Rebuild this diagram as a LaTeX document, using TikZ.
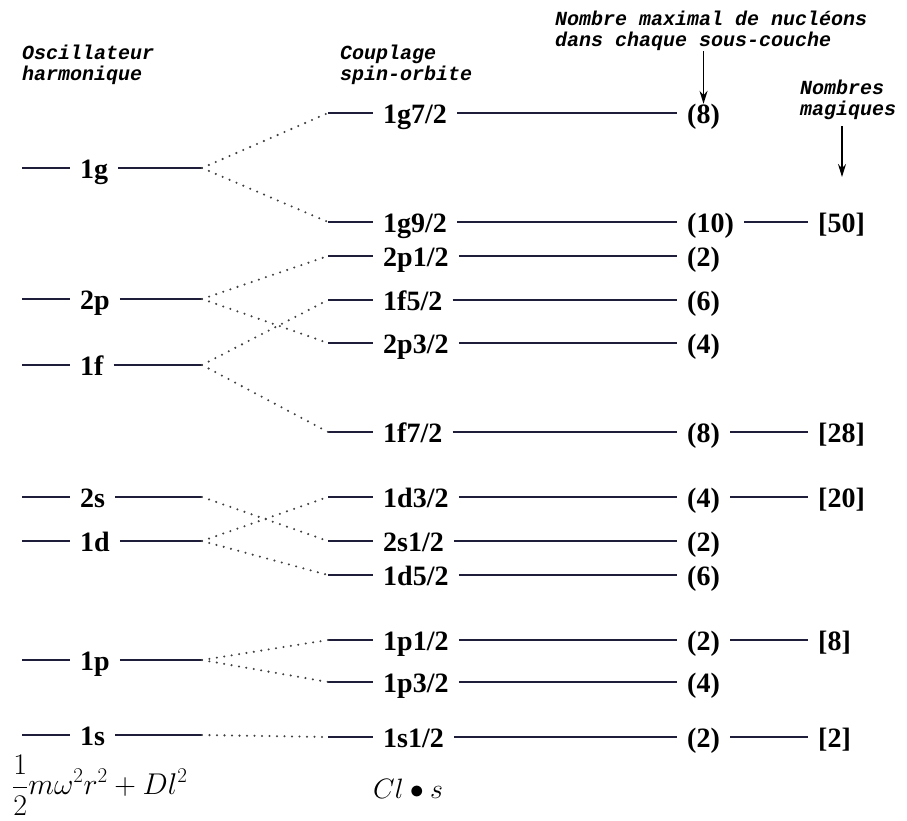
\RequirePackage{fix-cm}
\documentclass[tikz,border=0pt]{standalone}
\usepackage{fontspec}
\setmainfont{Liberation Serif}
\newfontfamily\hdrfont{Liberation Mono}
\usetikzlibrary{arrows.meta}
\definecolor{linecol}{HTML}{1E1E3A}
\definecolor{dotcol}{HTML}{404040}
\begin{document}
\begin{tikzpicture}[x=1pt,y=-1pt,
  lev/.style={line width=2.4pt, draw=linecol},
  dotline/.style={line width=2.3pt, draw=dotcol, dash pattern=on 0pt off 7.5pt, line cap=round},
  lbl/.style={font=\fontsize{28}{30}\selectfont\bfseries, inner xsep=10pt, inner ysep=0pt, anchor=base west},
  hdr/.style={font=\hdrfont\fontsize{20}{21}\selectfont\bfseries\itshape, align=left, anchor=north west, inner sep=0pt},
  arr/.style={line width=1.6pt, -{Stealth[length=13pt,width=8pt]}},
  frm/.style={inner sep=0pt}
]
\useasboundingbox[fill=white] (0,0) rectangle (907,821);

% headers
\node[hdr] (osc) at (22,45) {Oscillateur\\harmonique};
\node[hdr] (cpl) at (340,45) {Couplage\\spin-orbite};
\node[hdr] (nuc) at (555,11) {Nombre maximal de nucléons\\dans chaque sous-couche};
\node[hdr] (magh) at (800,80) {Nombres\\magiques};

% left column (harmonic oscillator)
\foreach \n/\t/\y in {g/1g/168, p2/2p/299, f/1f/365, s2/2s/497, d/1d/541, p/1p/660, s/1s/735}{
  \coordinate (\n-a) at (22,\y);
  \coordinate (\n-b) at (202,\y);
  \node[lbl] (\n) at (70,\y+10.5) {\t};
  \draw[lev] (\n-a) -- (\n.west |- \n-a);
  \draw[lev] (\n.east |- \n-a) -- (\n-b);
}

% middle column (spin-orbit) with counts
\foreach \n/\t/\y/\c in {m1/1g7\slash 2/113/(8), m2/1g9\slash 2/222/(10), m3/2p1\slash 2/256/(2),
  m4/1f5\slash 2/300/(6), m5/2p3\slash 2/343/(4), m6/1f7\slash 2/432/(8), m7/1d3\slash 2/497/(4),
  m8/2s1\slash 2/541/(2), m9/1d5\slash 2/575/(6), m10/1p1\slash 2/640/(2), m11/1p3\slash 2/682/(4),
  m12/1s1\slash 2/737/(2)}{
  \coordinate (\n-a) at (328,\y);
  \node[lbl] (\n) at (373,\y+10.5) {\t};
  \node[lbl] (\n-c) at (677,\y+10.5) {\c};
  \draw[lev] (\n-a) -- (\n.west |- \n-a);
  \draw[lev] (\n.east |- \n-a) -- (\n-c.west |- \n-a);
}

% magic numbers
\foreach \n/\t in {m2/[50], m6/[28], m7/[20], m10/[8], m12/[2]}{
  \node[lbl] (\n-m) at (808,0 |- \n-c.base) {\t};
  \draw[lev] (\n-c.east |- \n-a) -- (\n-m.west |- \n-a);
}

% dotted splitting connectors
\foreach \l/\m in {g/m1, g/m2, p2/m3, p2/m5, f/m4, f/m6, s2/m8, d/m7, d/m9, p/m10, p/m11, s/m12}{
  \draw[dotline] (\l-b) -- (\m-a);
}

% arrows
\draw[arr] (m1-c.north |- nuc.south) -- (m1-c.north);
\coordinate (magtip) at (842,177);
\draw[arr, shorten <=6pt] (magh.south -| magtip) -- (magtip);

% formulas
\node[frm, anchor=west, font=\fontsize{30}{32}\selectfont] (hof) at (12,785) {$\displaystyle \frac{1}{2}m\omega^2r^2+Dl^2$};
\node[frm, anchor=west, font=\fontsize{28}{30}\selectfont] (sof) at (373,789) {$Cl\bullet s$};
\end{tikzpicture}
\end{document}
